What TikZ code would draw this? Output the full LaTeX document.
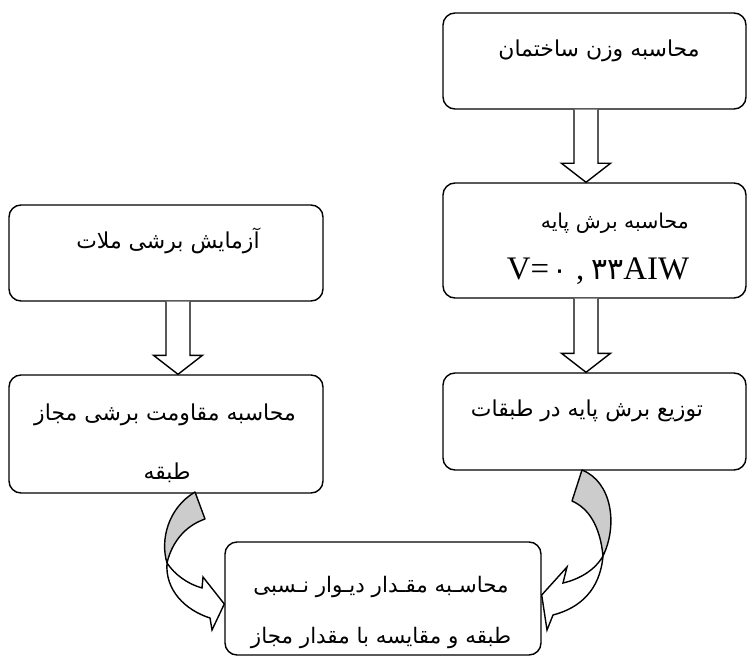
\documentclass[tikz,border=0pt]{standalone}
\usepackage{fontspec}
\newfontfamily\ar[Script=Arabic]{DejaVu Sans}
\newfontfamily\lat{Liberation Serif}
\TeXXeTstate=1
\usetikzlibrary{calc}
\definecolor{backgray}{RGB}{204,204,204}
\newcommand\hollowarrow[2]{%
  \draw[blockarr] ($(#1)+(-12,0)$) -- ($(#2)+(-12,-19)$) -- ($(#2)+(-24.5,-19)$) -- (#2)
    -- ($(#2)+(24.5,-19)$) -- ($(#2)+(12,-19)$) -- ($(#1)+(12,0)$);}
\begin{document}
\begin{tikzpicture}[x=1bp,y=-1bp,
  box/.style={draw, line width=1.4bp, rounded corners=12bp, inner sep=0pt},
  txt/.style={inner sep=0pt, anchor=base, font=\ar\fontsize{22}{26}\selectfont},
  smalltxt/.style={inner sep=0pt, anchor=base, font=\ar\fontsize{20.5}{24}\selectfont},
  ftxt/.style={inner sep=0pt, anchor=base, font=\ar\fontsize{21.5}{25}\selectfont},
  blockarr/.style={draw, line width=1.4bp, fill=white, line join=miter},
  curvback/.style={draw, line width=1.4bp, fill=backgray, line join=round},
  curvfront/.style={draw, line width=1.4bp, fill=white, line join=miter}]
\useasboundingbox (0,0) rectangle (748,657);
% boxes
\node[box, minimum width=303bp, minimum height=96bp] (A) at (594.5,61) {};
\node[box, minimum width=303bp, minimum height=115bp] (B) at (594.5,240.5) {};
\node[box, minimum width=303bp, minimum height=97bp] (C) at (594.5,421.5) {};
\node[box, minimum width=314bp, minimum height=96bp] (D) at (166,253) {};
\node[box, minimum width=314bp, minimum height=118bp] (E) at (166,434) {};
\node[box, minimum width=316bp, minimum height=113bp] (F) at (383,598.5) {};
% texts
\node[txt] (tA) at (599,57) {\beginR محاسبه وزن ساختمان\endR};
\node[smalltxt, anchor=base east] (tB1) at (689,228) {\beginR محاسبه برش پایه\endR};
\node[inner sep=0pt, anchor=base] (tB2) at (598,279) {{\lat\fontsize{33}{38}\selectfont V=}\hspace{3bp}{\ar\fontsize{28}{32}\selectfont ۰}\hspace{9bp}{\lat\fontsize{33}{38}\selectfont ,}\hspace{7bp}{\ar\fontsize{30}{34}\selectfont ۳۳}{\lat\fontsize{33}{38}\selectfont AIW}};
\node[txt] (tC) at (587,416) {\beginR توزیع برش پایه در طبقات\endR};
\node[txt] (tD) at (168,248) {\beginR آزمایش برشی ملات\endR};
\node[txt] (tE1) at (165,420) {\beginR محاسبه مقاومت برشی مجاز\endR};
\node[txt] (tE2) at (167,479) {\beginR طبقه\endR};
\node[ftxt] (tF1) at (381,592) {\beginR محاسـبه مقـدار دیـوار نـسبی\endR};
\node[ftxt] (tF2) at (381,643) {\beginR طبقه و مقایسه با مقدار مجاز\endR};
% straight hollow arrows
\coordinate (a1) at ($(A.south)+(-8.5,0)$);
\coordinate (a1t) at (a1 |- B.north);
\hollowarrow{a1}{a1t}
\coordinate (a2) at ($(B.south)+(-8.5,0)$);
\coordinate (a2t) at (a2 |- C.north);
\hollowarrow{a2}{a2t}
\coordinate (a3) at ($(D.south)+(12,0)$);
\coordinate (a3t) at (a3 |- E.north);
\hollowarrow{a3}{a3t}
% left curved arrow (E -> F)
\coordinate (lx) at (167,563);
\draw[curvback] (195,492) -- (205,519) .. controls (185,526) and (172,542) .. (lx)
  .. controls (160,540) and (168,508) .. (195,492) -- cycle;
\draw[curvfront] (lx) .. controls (175,575) and (188,584) .. (202,588) -- (203,577)
  -- (F.west |- 0,604) -- (212,630) -- (210,618)
  .. controls (185,610) and (165,590) .. (lx) -- cycle;
% right curved arrow (C -> F)
\coordinate (rx) at (603,556);
\draw[curvback] (582,470) -- (572,501) .. controls (588,508) and (600,525) .. (rx)
  .. controls (618,525) and (612,482) .. (582,470) -- cycle;
\draw[curvfront] (rx) .. controls (595,570) and (580,579) .. (563,583) -- (567,567)
  -- (F.east |- 0,595) -- (547,630) -- (553,615)
  .. controls (580,608) and (600,590) .. (rx) -- cycle;
\end{tikzpicture}
\end{document}
